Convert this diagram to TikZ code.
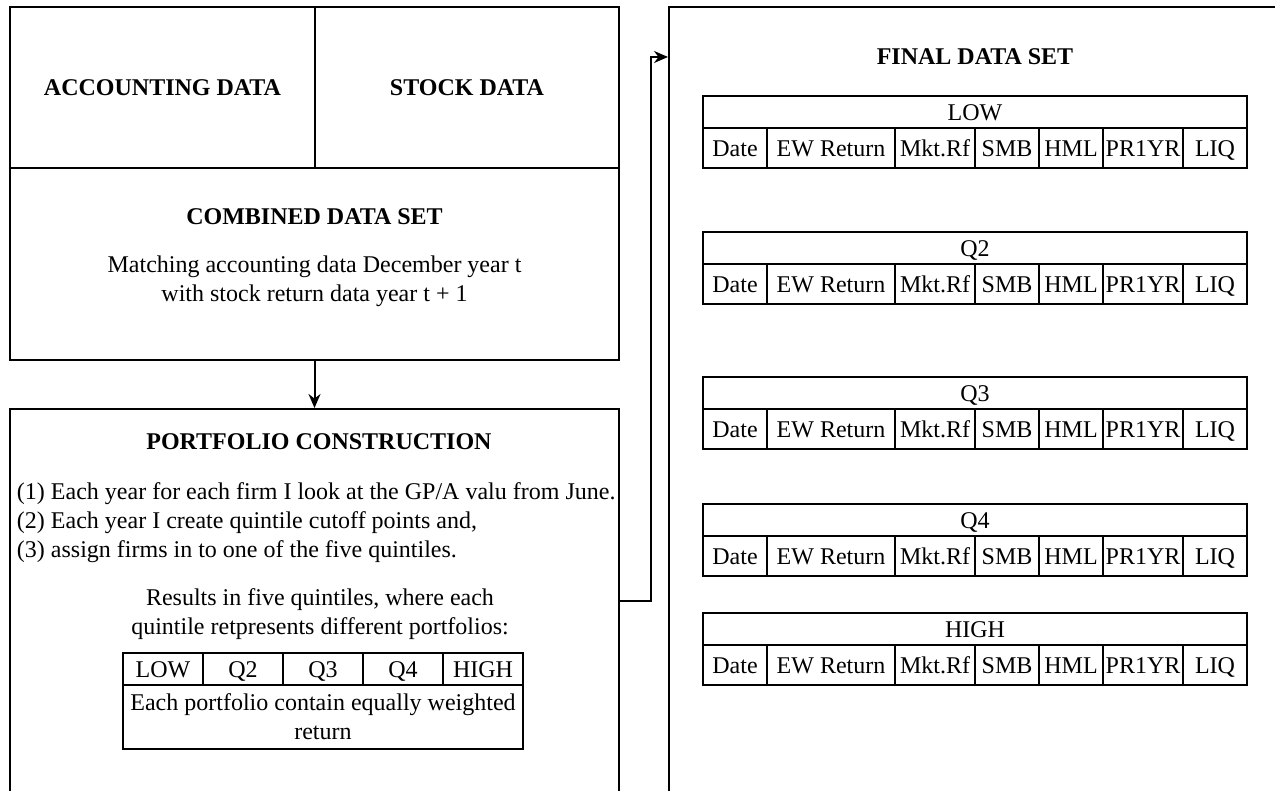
\documentclass[tikz,border=0pt]{standalone}
\usepackage{fontspec}
\setmainfont{Liberation Serif}
\usetikzlibrary{arrows.meta, positioning}

\begin{document}
\begin{tikzpicture}[x=0.5pt, y=-0.5pt, line width=1pt,
  every node/.style={font=\fontsize{12}{14.5}\selectfont}]
\tikzstyle{panel}=[rectangle, draw, inner sep=0pt]
\tikzstyle{heading}=[font=\fontsize{12}{14.5}\selectfont\bfseries]
\tikzstyle{cell}=[rectangle, draw, inner sep=0pt, outer sep=0pt, minimum height=20pt,
  text height=10pt, text depth=1.5pt]
\tikzstyle{hdcell}=[rectangle, draw, inner sep=0pt, outer sep=0pt, minimum height=16pt,
  minimum width=272pt, text height=10pt, text depth=1.5pt]
\tikzstyle{qcell}=[rectangle, draw, inner sep=0pt, outer sep=0pt, minimum height=16pt,
  minimum width=40pt, text height=10pt, text depth=1.5pt]
\tikzstyle{arr}=[-{Stealth[length=7pt, width=6pt]}]

\useasboundingbox (0,0) rectangle (1275,791);
\clip (0,0) rectangle (1275,791);

% input data
\node[panel, heading, minimum width=152.5pt, minimum height=80.5pt] (acc) at (162.5,87.5) {ACCOUNTING DATA};
\node[panel, heading, minimum width=152pt, minimum height=80.5pt] (stock) at (467,87.5) {STOCK DATA};
\node[panel, minimum width=304.5pt, minimum height=96pt] (comb) at (314.5,264) {};
\node[heading] (combtitle) at (314.5,217) {COMBINED DATA SET};
\node[align=center] (combtext) at (314.5,281)
  {Matching accounting data December year t\\with stock return data year t + 1};

% portfolio construction
\node[panel, minimum width=304.5pt, minimum height=210.5pt] (port) at (314.5,619.5) {};
\node[heading] (porttitle) at (319,442) {PORTFOLIO CONSTRUCTION};
\node[inner sep=0pt, anchor=west] (st1) at (16,494) {(1) Each year for each firm I look at the GP/A valu from June.};
\node[inner sep=0pt, anchor=west] (st2) at (16,523) {(2) Each year I create quintile cutoff points and,};
\node[inner sep=0pt, anchor=west] (st3) at (16,552) {(3) assign firms in to one of the five quintiles.};
\node[align=center] (res) at (320,614)
  {Results in five quintiles, where each\\quintile retpresents different portfolios:};
\node[qcell, anchor=north west] (qlow) at (123,653) {LOW};
\node[qcell, right=0pt of qlow] (qtwo) {Q2};
\node[qcell, right=0pt of qtwo] (qthree) {Q3};
\node[qcell, right=0pt of qthree] (qfour) {Q4};
\node[qcell, right=0pt of qfour] (qhigh) {HIGH};
\node[rectangle, draw, inner sep=0pt, outer sep=0pt, minimum width=200pt, minimum height=32pt,
  align=center, anchor=north west] (qnote) at (qlow.south west) {Each portfolio contain equally weighted\\return};

% final data set
\node[panel, minimum width=315.5pt, minimum height=411.5pt] (fin) at (984.5,418.5) {};
\node[heading] (fintitle) at (975,57) {FINAL DATA SET};
\foreach \nm/\lbl/\top in {low/LOW/96, qb/Q2/232, qc/Q3/377, qd/Q4/504, high/HIGH/613} {
  \node[hdcell, anchor=north west] (\nm-hd) at (703,\top) {\lbl};
  \node[cell, minimum width=32pt, anchor=north west] (\nm-date) at (\nm-hd.south west) {Date};
  \node[cell, minimum width=64pt, right=0pt of \nm-date] (\nm-ew) {EW Return};
  \node[cell, minimum width=40pt, right=0pt of \nm-ew] (\nm-mkt) {Mkt.Rf};
  \node[cell, minimum width=32pt, right=0pt of \nm-mkt] (\nm-smb) {SMB};
  \node[cell, minimum width=32pt, right=0pt of \nm-smb] (\nm-hml) {HML};
  \node[cell, minimum width=40pt, right=0pt of \nm-hml] (\nm-pr) {PR1YR};
  \node[cell, minimum width=32pt, right=0pt of \nm-pr] (\nm-liq) {LIQ};
}

% connectors
\coordinate (bend) at (651,601);
\draw[arr] (comb.south) -- (port.north);
\draw[arr] (bend -| port.east) -- (bend) |- (fin.west |- fintitle);
\end{tikzpicture}
\end{document}
